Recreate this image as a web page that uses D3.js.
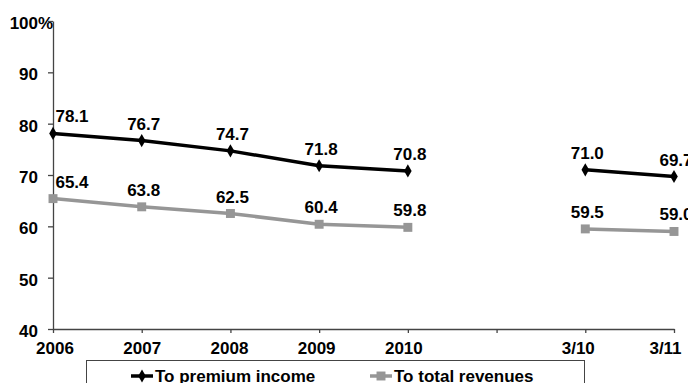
<!DOCTYPE html>
<html>
<head>
<meta charset="utf-8">
<script src="https://cdn.jsdelivr.net/npm/d3@7/dist/d3.min.js"></script>
<style>
  html, body { margin: 0; padding: 0; background: #fff; }
  svg { display: block; }
  text { font-family: "Liberation Sans", Arial, sans-serif; font-weight: bold; fill: #000; }
</style>
</head>
<body>
<svg id="chart" width="688" height="383"></svg>
<script>
// Period labels (the empty slot separates the annual and quarterly figures)
const categories = ["2006", "2007", "2008", "2009", "2010", "", "3/10", "3/11"];
// Ratio to premium income (%)
const premiumIncome = [78.1, 76.7, 74.7, 71.8, 70.8, null, 71.0, 69.7];
// Ratio to total revenues (%)
const totalRevenues = [65.4, 63.8, 62.5, 60.4, 59.8, null, 59.5, 59.0];
// Y-axis ticks
const yTicks = [40, 50, 60, 70, 80, 90, 100];
const seriesNames = ["To premium income", "To total revenues"];

const svg = d3.select("#chart");
const plotLeft = 53, plotRight = 674, plotTop = 21, plotBottom = 329;

const x = d3.scalePoint().domain(d3.range(categories.length)).range([plotLeft, plotRight]);
// category captions sit on a slightly narrower spread so the last one stays inside
const xLabel = d3.scalePoint().domain(x.domain()).range([plotLeft + 1.5, plotRight - 9]);
const y = d3.scaleLinear().domain([40, 100]).range([plotBottom, plotTop]);

const axisColor = "#444";

// Y axis
const yAxis = svg.append("g")
  .attr("transform", `translate(${plotLeft},0)`)
  .call(d3.axisLeft(y).tickValues(yTicks).tickSize(5).tickPadding(10).tickSizeOuter(0));
yAxis.select(".domain").attr("stroke", axisColor).attr("stroke-width", 1.3);
yAxis.selectAll(".tick line").attr("stroke", axisColor).attr("stroke-width", 1.3);
yAxis.selectAll(".tick text")
  .attr("font-size", 17).attr("font-family", "Liberation Sans, Arial, sans-serif")
  .attr("font-weight", "bold").attr("fill", "#000").attr("dy", "0.45em");
// percent sign trailing the top tick value
yAxis.selectAll(".tick").filter(d => d === 100).append("text")
  .attr("x", -15).attr("dy", "0.45em")
  .attr("text-anchor", "start").attr("font-size", 17).attr("fill", "#000")
  .text("%");

// X axis
const xAxis = svg.append("g")
  .attr("transform", `translate(0,${plotBottom})`)
  .call(d3.axisBottom(x).tickFormat(i => categories[i]).tickSize(4).tickPadding(9).tickSizeOuter(0));
xAxis.select(".domain").attr("stroke", axisColor).attr("stroke-width", 1.3);
xAxis.selectAll(".tick line").attr("stroke", axisColor).attr("stroke-width", 1.3);
xAxis.selectAll(".tick text")
  .attr("font-size", 17).attr("font-family", "Liberation Sans, Arial, sans-serif")
  .attr("font-weight", "bold").attr("fill", "#000")
  .attr("dx", i => xLabel(i) - x(i));

const series = [
  { name: seriesNames[0], values: premiumIncome, color: "#000", marker: d3.symbolDiamond, size: 50 },
  { name: seriesNames[1], values: totalRevenues, color: "#969696", marker: d3.symbolSquare, size: 80 }
];

const line = d3.line()
  .defined(d => d.v !== null)
  .x(d => x(d.i))
  .y(d => y(d.v));

series.forEach(s => {
  const pts = s.values.map((v, i) => ({ i, v }));
  svg.append("path")
    .datum(pts)
    .attr("fill", "none")
    .attr("stroke", s.color)
    .attr("stroke-width", 3.5)
    .attr("d", line);

  const valid = pts.filter(d => d.v !== null);
  svg.selectAll(null).data(valid).enter().append("path")
    .attr("transform", d => `translate(${x(d.i)},${y(d.v)})`)
    .attr("d", d3.symbol().type(s.marker).size(s.size))
    .attr("fill", s.color);

  svg.selectAll(null).data(valid).enter().append("text")
    .attr("x", d => Math.max(x(d.i) + 2, plotLeft + 19))
    .attr("y", d => y(d.v) - 11)
    .attr("text-anchor", "middle")
    .attr("font-size", 17)
    .text(d => d.v.toFixed(1));
});

// Legend
const legend = svg.append("g");
legend.append("rect")
  .attr("x", 86.5).attr("y", 360.5).attr("width", 498).attr("height", 40)
  .attr("fill", "#fff").attr("stroke", "#444").attr("stroke-width", 1);
const legendX = [131, 370];
series.forEach((s, k) => {
  const g = legend.append("g").attr("transform", `translate(${legendX[k]},376)`);
  g.append("line").attr("x1", 0).attr("x2", 22).attr("y1", 0).attr("y2", 0)
    .attr("stroke", s.color).attr("stroke-width", 3.5);
  g.append("path").attr("transform", "translate(11,0)")
    .attr("d", d3.symbol().type(s.marker).size(s.size)).attr("fill", s.color);
  g.append("text").attr("x", 24).attr("y", 6).attr("font-size", 17).text(s.name);
});
</script>
</body>
</html>
